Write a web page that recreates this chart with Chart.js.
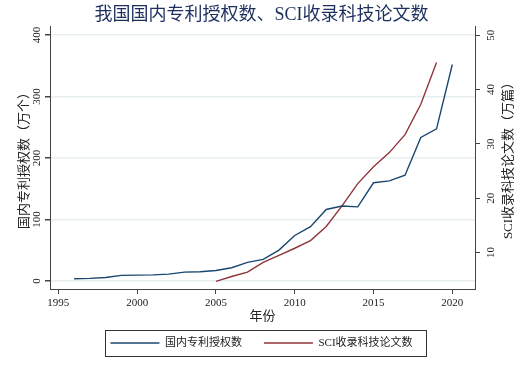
<!DOCTYPE html>
<html>
<head>
<meta charset="utf-8">
<script src="https://cdn.jsdelivr.net/npm/chart.js@4"></script>
<style>html,body{margin:0;padding:0;background:#fff}</style>
</head>
<body>
<canvas id="chart" width="523" height="369"></canvas>
<script>
// 国内专利授权数（万个）
const patentYears = [1996, 1997, 1998, 1999, 2000, 2001, 2002, 2003, 2004, 2005, 2006, 2007, 2008,
  2009, 2010, 2011, 2012, 2013, 2014, 2015, 2016, 2017, 2018, 2019, 2020];
const patents = [3.7, 4.3, 5.6, 9.2, 9.5, 10.0, 11.2, 14.5, 15.1, 17.1, 21.5, 30.2, 35.2,
  50.2, 74.0, 88.3, 116.3, 122.0, 120.5, 159.7, 162.8, 172.1, 233.5, 247.4, 352];

// SCI收录科技论文数（万篇）
const sciYears = [2005, 2006, 2007, 2008, 2009, 2010, 2011, 2012, 2013, 2014, 2015, 2016, 2017, 2018, 2019];
const sciPapers = [4.7, 5.6, 6.4, 8.2, 9.5, 10.8, 12.2, 14.8, 18.6, 22.7, 25.8, 28.4, 31.7, 37.3, 45.0];

const xTicks = [1995, 2000, 2005, 2010, 2015, 2020];
const leftTicks = [0, 100, 200, 300, 400];
const rightTicks = [10, 20, 30, 40, 50];

const font = "'Liberation Serif', 'Noto Sans CJK SC', serif";
const blue = '#1a476f';
const red = '#90353b';
const axisColor = '#444';
const gridColor = '#e6eef0';

const rightTitle = {
  id: 'rightTitle',
  afterDraw(chart) {
    const c = chart.ctx;
    const s = chart.scales.y1;
    c.save();
    c.translate(509, (s.top + s.bottom) / 2);
    c.rotate(-Math.PI / 2);
    c.font = '13px ' + font;
    c.fillStyle = '#222';
    c.textAlign = 'center';
    c.textBaseline = 'middle';
    c.fillText('SCI收录科技论文数（万篇）', 0, 0);
    c.restore();
  }
};

// rectangle round the legend, stata style
const legendBox = {
  id: 'legendBox',
  afterDraw(chart) {
    const boxes = chart.legend.legendHitBoxes;
    if (!boxes || !boxes.length) return;
    const first = boxes[0];
    const last = boxes[boxes.length - 1];
    const x0 = Math.round(first.left - 5);
    const x1 = Math.round(last.left + last.width + 13);
    const cy = Math.round(first.top + first.height / 2);
    const c = chart.ctx;
    c.save();
    c.strokeStyle = '#333';
    c.lineWidth = 1;
    c.strokeRect(x0 + 0.5, cy - 13 + 0.5, x1 - x0, 26);
    c.restore();
  }
};

new Chart(document.getElementById('chart'), {
  type: 'line',
  data: {
    datasets: [
      {
        label: '国内专利授权数',
        data: patentYears.map((yr, i) => ({x: yr, y: patents[i]})),
        borderColor: blue,
        backgroundColor: blue,
        borderWidth: 1.4,
        pointRadius: 0,
        tension: 0,
        yAxisID: 'y'
      },
      {
        label: 'SCI收录科技论文数',
        data: sciYears.map((yr, i) => ({x: yr, y: sciPapers[i]})),
        borderColor: red,
        backgroundColor: red,
        borderWidth: 1.4,
        pointRadius: 0,
        tension: 0,
        yAxisID: 'y1'
      }
    ]
  },
  options: {
    responsive: false,
    animation: false,
    devicePixelRatio: 1,
    layout: {padding: {left: 0, right: 0, top: 0, bottom: 10.5}},
    plugins: {
      title: {
        display: true,
        text: '我国国内专利授权数、SCI收录科技论文数',
        color: '#1c2f5e',
        font: {family: font, size: 18, weight: 'normal'},
        padding: {top: 4, bottom: 0.4}
      },
      legend: {
        position: 'bottom',
        labels: {
          usePointStyle: true,
          pointStyle: 'line',
          pointStyleWidth: 49,
          boxWidth: 49,
          padding: 22,
          color: '#222',
          font: {family: font, size: 11}
        }
      },
      tooltip: {enabled: false}
    },
    scales: {
      x: {
        type: 'linear',
        min: 1994.47,
        max: 2021.44,
        afterBuildTicks: s => { s.ticks = xTicks.map(v => ({value: v})); },
        afterFit: s => { s.height = 26.5; },
        ticks: {
          color: '#222',
          font: {family: font, size: 11},
          padding: 3,
          maxRotation: 0,
          callback: v => String(v)
        },
        grid: {drawOnChartArea: false, tickLength: 5, tickColor: axisColor},
        border: {color: axisColor, width: 1},
        title: {
          display: true,
          text: '年份',
          color: '#222',
          font: {family: font, size: 13},
          padding: {top: 0, bottom: -9.3}
        }
      },
      y: {
        position: 'left',
        min: -13,
        max: 414.6,
        afterBuildTicks: s => { s.ticks = leftTicks.map(v => ({value: v})); },
        afterFit: s => { s.width = 50; },
        ticks: {
          color: '#222',
          font: {family: font, size: 11},
          minRotation: 90,
          maxRotation: 90,
          crossAlign: 'center',
          padding: 0
        },
        grid: {color: gridColor, lineWidth: 1.5, tickLength: 5, tickColor: axisColor},
        border: {color: axisColor, width: 1},
        title: {
          display: true,
          text: '国内专利授权数（万个）',
          color: '#222',
          font: {family: font, size: 13},
          padding: {top: 17, bottom: 0}
        }
      },
      y1: {
        position: 'right',
        min: 3.3,
        max: 51.7,
        afterBuildTicks: s => { s.ticks = rightTicks.map(v => ({value: v})); },
        afterFit: s => { s.width = 48; },
        ticks: {
          color: '#222',
          font: {family: font, size: 11},
          minRotation: 90,
          maxRotation: 90,
          crossAlign: 'center',
          padding: 5.5
        },
        grid: {drawOnChartArea: false, tickLength: 5, tickColor: axisColor},
        border: {color: axisColor, width: 1}
      }
    }
  },
  plugins: [rightTitle, legendBox]
});
</script>
</body>
</html>
